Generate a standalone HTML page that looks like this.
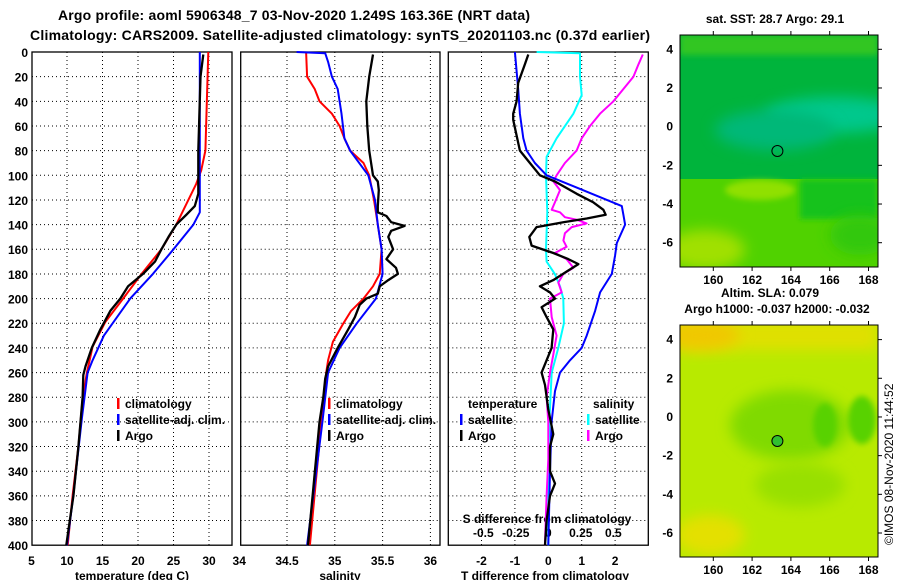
<!DOCTYPE html>
<html><head><meta charset="utf-8"><style>
html,body{margin:0;padding:0;background:#fff;}
svg{display:block;font-family:"Liberation Sans",Arial,sans-serif;font-weight:bold;}
</style></head><body>
<svg id="chart" width="900" height="580" viewBox="0 0 900 580" xmlns="http://www.w3.org/2000/svg">
<defs>
<filter id="blur6" x="-50%" y="-50%" width="200%" height="200%"><feGaussianBlur stdDeviation="7"/></filter>
<filter id="blur3" x="-50%" y="-50%" width="200%" height="200%"><feGaussianBlur stdDeviation="3"/></filter>
<clipPath id="cTop"><rect x="680" y="35" width="198" height="232"/></clipPath>
<clipPath id="cBot"><rect x="680" y="325" width="198" height="232"/></clipPath>
</defs>
<text x="294" y="20" font-size="14" text-anchor="middle" textLength="472">Argo profile: aoml 5906348_7 03-Nov-2020 1.249S 163.36E (NRT data)</text>
<text x="340" y="40" font-size="14" text-anchor="middle" textLength="620">Climatology: CARS2009. Satellite-adjusted climatology: synTS_20201103.nc (0.37d earlier)</text>
<g id="panels"></g>
<g id="maps">
 <text x="775" y="23" font-size="12" text-anchor="middle">sat. SST: 28.7 Argo: 29.1</text>
 <g clip-path="url(#cTop)">
  <rect x="680" y="35" width="198" height="232" fill="#00b43c"/>
  <rect x="680" y="35" width="198" height="20" fill="#30c622" filter="url(#blur3)"/>
  <ellipse cx="835" cy="115" rx="70" ry="18" fill="#00c88c" filter="url(#blur6)"/>
  <ellipse cx="775" cy="130" rx="60" ry="20" fill="#00b878" filter="url(#blur6)"/>
  <rect x="680" y="179" width="198" height="90" fill="#50d200"/>
  <rect x="800" y="179" width="78" height="40" fill="#18c21c" filter="url(#blur3)"/>
  <ellipse cx="860" cy="235" rx="30" ry="20" fill="#30c810" filter="url(#blur6)"/>
  <ellipse cx="705" cy="250" rx="40" ry="20" fill="#a0e000" filter="url(#blur6)"/>
  <ellipse cx="760" cy="190" rx="35" ry="10" fill="#90e000" filter="url(#blur3)"/>
 </g>
 <rect x="680" y="35" width="198" height="232" fill="none" stroke="#000"/>
 <circle cx="777.4" cy="151" r="5.5" fill="none" stroke="#000"/>
 <text x="770" y="297" font-size="12" text-anchor="middle">Altim. SLA: 0.079</text>
 <text x="777" y="313" font-size="12" text-anchor="middle">Argo h1000: -0.037 h2000: -0.032</text>
 <g clip-path="url(#cBot)">
  <rect x="680" y="325" width="198" height="232" fill="#b8ea00"/>
  <rect x="680" y="320" width="198" height="30" fill="#e0e000" filter="url(#blur6)"/>
  <ellipse cx="700" cy="335" rx="40" ry="15" fill="#f0c800" filter="url(#blur6)"/>
  <ellipse cx="790" cy="425" rx="60" ry="35" fill="#80da00" filter="url(#blur6)"/>
  <ellipse cx="825" cy="425" rx="12" ry="22" fill="#58d200" filter="url(#blur3)"/>
  <ellipse cx="862" cy="420" rx="14" ry="24" fill="#58d200" filter="url(#blur3)"/>
  <ellipse cx="800" cy="485" rx="45" ry="22" fill="#98e000" filter="url(#blur6)"/>
  <ellipse cx="710" cy="535" rx="35" ry="20" fill="#e4e000" filter="url(#blur6)"/>
 </g>
 <rect x="680" y="325" width="198" height="232" fill="none" stroke="#000"/>
 <circle cx="777.4" cy="441" r="5.5" fill="#30c030" stroke="#000"/>
 <text transform="translate(893,545) rotate(-90)" font-size="12" font-weight="normal">©IMOS 08-Nov-2020 11:44:52</text>
</g>
</svg>
<script>
// ---- data ----
const depthTicks=[0,20,40,60,80,100,120,140,160,180,200,220,240,260,280,300,320,340,360,380,400];
const tempTicks=[5,10,15,20,25,30];
const salTicks=[34,34.5,35,35.5,36];
const tdiffTicks=[-2,-1,0,1,2];
const sdiffTicks=[-0.5,-0.25,0,0.25,0.5];
const lonTicks=[160,162,164,166,168];
const latTicks=[4,2,0,-2,-4,-6];

const tClimP=[0,80,96,107,140,160,180,200,219,239,260,281,320,359,400];
const tClimV=[29.9,29.5,28.9,28.2,25.4,23.3,20.5,17.9,15.4,13.6,12.8,12.2,11.6,10.8,10.1];
const tSatP=[0,130,140,160,180,200,230,250,260,297,359,400];
const tSatV=[28.7,28.7,27.8,25.0,22.1,18.9,15.2,13.6,12.9,12.1,10.9,10.0];
const tArgoP=[2,20,80,115,125,132,140,150,160,170,180,190,200,210,225,240,255,262,280,320,360,380,400];
const tArgoV=[29.2,28.8,28.5,28.5,28.0,26.8,25.4,24.3,23.3,22.4,20.7,18.6,17.5,16.1,14.7,13.5,12.6,12.3,12.2,11.6,10.9,10.4,9.9];

const sClimP=[0,20,30,40,50,60,70,80,90,100,120,140,160,180,190,200,210,220,235,250,260,300,400];
const sClimV=[34.70,34.71,34.79,34.84,34.97,35.05,35.10,35.16,35.30,35.36,35.41,35.45,35.49,35.47,35.40,35.30,35.17,35.09,34.98,34.93,34.91,34.86,34.74];
const sSatP=[0,1,8,20,30,50,70,80,100,120,140,160,180,200,220,240,260,300,400];
const sSatV=[34.6,34.9,34.93,34.97,35.03,35.07,35.10,35.16,35.35,35.42,35.45,35.49,35.50,35.43,35.23,35.05,34.93,34.87,34.71];
const sArgoP=[2,20,40,60,80,90,100,105,112,125,130,133,138,141,145,150,160,168,175,180,185,190,196,200,205,215,225,240,255,265,280,300,400];
const sArgoV=[35.40,35.36,35.33,35.34,35.36,35.38,35.40,35.45,35.46,35.45,35.45,35.54,35.59,35.73,35.59,35.56,35.61,35.54,35.64,35.66,35.56,35.47,35.45,35.33,35.26,35.21,35.14,35.03,34.93,34.90,34.88,34.84,34.72];

const dtSatP=[0,30,50,70,80,90,100,110,125,132,140,155,165,180,195,210,230,240,250,260,275,300,340,400];
const dtSatV=[-1.0,-0.9,-0.85,-0.75,-0.65,-0.4,-0.05,0.85,2.2,2.25,2.3,2.05,2.0,1.9,1.55,1.4,1.15,1.0,0.65,0.35,0.2,0.1,0.05,0.0];
const dtArgoP=[2,10,25,40,50,55,70,80,90,100,105,115,122,128,132,135,138,142,150,157,163,168,172,178,185,190,195,200,207,215,225,240,260,270,290,310,320,340,350,360,380,400];
const dtArgoV=[-0.6,-0.7,-0.9,-0.95,-1.05,-1.05,-0.93,-0.85,-0.55,-0.25,0.2,0.85,1.35,1.65,1.72,1.15,0.45,-0.35,-0.57,-0.5,0.15,0.6,0.9,0.55,0.15,-0.25,0.05,0.2,-0.2,-0.05,0.15,0.1,-0.2,-0.1,0.0,0.15,0.05,0.05,0.2,0.05,-0.05,-0.1];
const dsSatP=[0,1,20,35,50,70,85,100,130,160,170,180,190,200,220,240,260,300,340,400];
const dsSatV=[-0.09,0.244,0.244,0.257,0.193,0.064,-0.013,-0.018,-0.008,-0.018,-0.013,0.05,0.09,0.115,0.12,0.077,0.026,0.008,0.0,0.0];
const dsArgoP=[2,10,20,30,40,50,60,70,80,90,100,105,112,122,128,130,134,136,139,142,147,153,158,163,168,175,180,187,195,200,215,230,245,260,280,300,330,360,400];
const dsArgoV=[0.727,0.694,0.655,0.578,0.501,0.398,0.321,0.257,0.218,0.128,0.064,0.039,0.09,0.051,0.026,0.09,0.128,0.218,0.295,0.18,0.128,0.116,0.141,0.051,0.141,0.193,0.116,0.077,0.103,0.013,0.026,0.064,0.039,0.013,-0.013,0.0,0.0,-0.013,-0.026];

// ---- axes ----
const Y0=52,Y1=545.2;
const yP=p=>Y0+p*(Y1-Y0)/400;
const xT=t=>67+(t-10)*7.1;
const xS=s=>287+(s-34.5)*95.6;
const xDT=d=>548.3+d*33.4;
const xDS=d=>548.3+d*130;
const xLon=l=>713.3+(l-160)*19.4;
const yLatTop=l=>49.3+(4-l)*19.34;
const yLatBot=l=>339.6+(4-l)*19.34;

const NS='http://www.w3.org/2000/svg';
const root=document.getElementById('panels');
function el(tag,attrs,parent){const e=document.createElementNS(NS,tag);for(const k in attrs)e.setAttribute(k,attrs[k]);(parent||root).appendChild(e);return e;}
function txt(s,attrs,parent){const e=el('text',attrs,parent);e.textContent=s;return e;}

const panels=[
 {name:'temperature-panel',x0:32,x1:232,ticks:tempTicks,fx:xT,lab:t=>String(t),title:'temperature (deg C)',tx:132},
 {name:'salinity-panel',x0:240.7,x1:440,ticks:salTicks,fx:xS,lab:s=>String(s),title:'salinity',tx:340},
 {name:'difference-panel',x0:448.3,x1:648.3,ticks:tdiffTicks,fx:xDT,lab:d=>String(d),title:'T difference from climatology',tx:545}
];
panels.forEach((P,pi)=>{
 const g=el('g',{});
 
 
 depthTicks.forEach(p=>{if(p>0&&p<400){const l=el('line',{x1:P.x0,x2:P.x1,y1:yP(p),y2:yP(p),stroke:'#000','stroke-width':1,'stroke-dasharray':'1,3'},g);
  
  }});
 P.ticks.forEach(t=>{const x=P.fx(t);
  if(x>P.x0+1&&x<P.x1-1){const l=el('line',{x1:x,x2:x,y1:Y0,y2:Y1,stroke:'#000','stroke-width':1,'stroke-dasharray':'1,3'},g);
   
   }
  if(x>=P.x0-12&&x<=P.x1+12){const tl=txt(P.lab(t),{x:x,y:565,'font-size':12,'text-anchor':'middle'},g);
   
   }
 });
 const fr=el('rect',{x:P.x0,y:Y0,width:P.x1-P.x0,height:Y1-Y0,fill:'none',stroke:'#000','stroke-width':1.3},g);
 
 
 const at=txt(P.title,{x:P.tx,y:580,'font-size':12,'text-anchor':'middle'},g);
 
 
});
depthTicks.forEach((p,i)=>{const t=txt(String(p),{x:28,y:57+i*24.65,'font-size':12,'text-anchor':'end'});
 
 });
sdiffTicks.forEach(d=>{const t=txt(String(d),{x:xDS(d),y:537,'font-size':12,'text-anchor':'middle'});
 
 });
const sdt=txt('S difference from climatology',{x:547,y:523,'font-size':12,'text-anchor':'middle'});



function series(P,V,fx,color,w,name){
 const pts=P.map((p,i)=>fx(V[i]).toFixed(1)+','+yP(p).toFixed(1)).join(' ');
 const pl=el('polyline',{points:pts,fill:'none',stroke:color,'stroke-width':w,'stroke-linejoin':'round'});
 
 
}
series(tClimP,tClimV,xT,'#f00',2,'temp-climatology-line');
series(tSatP,tSatV,xT,'#00f',2,'temp-satellite-line');
series(tArgoP,tArgoV,xT,'#000',2.3,'temp-argo-line');
series(sClimP,sClimV,xS,'#f00',2,'sal-climatology-line');
series(sSatP,sSatV,xS,'#00f',2,'sal-satellite-line');
series(sArgoP,sArgoV,xS,'#000',2.3,'sal-argo-line');
series(dsSatP,dsSatV,xDS,'#0ff',2,'sdiff-satellite-line');
series(dsArgoP,dsArgoV,xDS,'#f0f',2,'sdiff-argo-line');
series(dtSatP,dtSatV,xDT,'#00f',2,'tdiff-satellite-line');
series(dtArgoP,dtArgoV,xDT,'#000',2.3,'tdiff-argo-line');

function legend(x,y,color,label){
 const g=el('g',{});
 
 
 el('rect',{x:x-1,y:y-10,width:2.5,height:11,fill:color},g);
 txt(label,{x:x+7,y:y,'font-size':12},g);
}
[[118,'#f00','climatology'],[118,'#00f','satellite-adj. clim.'],[118,'#000','Argo']].forEach((a,i)=>legend(a[0],408+i*16,a[1],a[2]));
[[329,'#f00','climatology'],[329,'#00f','satellite-adj. clim.'],[329,'#000','Argo']].forEach((a,i)=>legend(a[0],408+i*16,a[1],a[2]));
const lt=txt('temperature',{x:468,y:408,'font-size':12});


const ls=txt('salinity',{x:593,y:408,'font-size':12});


legend(461,424,'#00f','satellite');legend(461,440,'#000','Argo');
legend(588,424,'#0ff','satellite');legend(588,440,'#f0f','Argo');

// map axes
const maps=document.getElementById('maps');
[[35,267,yLatTop],[325,557,yLatBot]].forEach(m=>{
 lonTicks.forEach(l=>{const x=xLon(l);
  el('line',{x1:x,x2:x,y1:m[0],y2:m[0]-4,stroke:'#000'},maps);
  el('line',{x1:x,x2:x,y1:m[1],y2:m[1]+4,stroke:'#000'},maps);
  const t=txt(String(l),{x:x,y:m[1]+17,'font-size':12,'text-anchor':'middle'},maps);
  
  });
 latTicks.forEach(l=>{const y=m[2](l);
  el('line',{x1:878,x2:882,y1:y,y2:y,stroke:'#000'},maps);
  const t=txt(String(l),{x:673,y:y+4,'font-size':12,'text-anchor':'end'},maps);
  
  });
});
</script>
</body></html>
